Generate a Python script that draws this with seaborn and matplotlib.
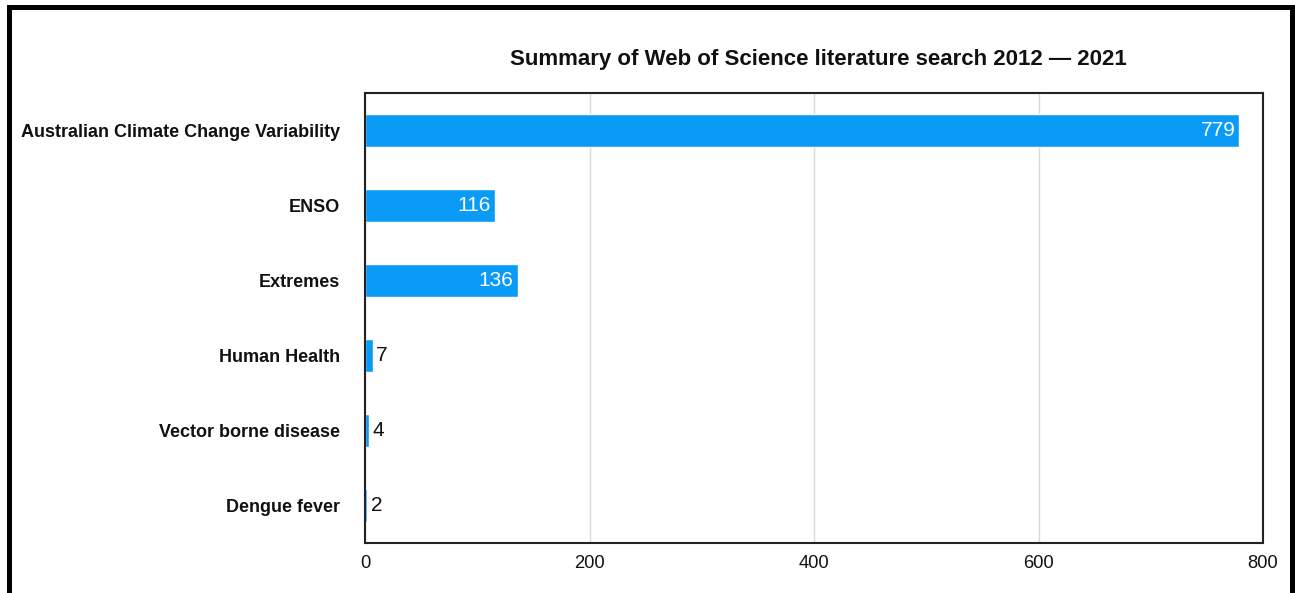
import matplotlib
matplotlib.use("Agg")
import matplotlib.pyplot as plt
from matplotlib.patches import Rectangle
import seaborn as sns
import pandas as pd

# Web of Science search results by topic
topics = [
    "Australian Climate Change Variability",
    "ENSO",
    "Extremes",
    "Human Health",
    "Vector borne disease",
    "Dengue fever",
]
counts = [779, 116, 136, 7, 4, 2]
x_ticks = [0, 200, 400, 600, 800]
title = "Summary of Web of Science literature search 2012 \u2014 2021"

df = pd.DataFrame({"topic": topics, "count": counts})

sns.set_theme(style="white")
plt.rcParams["font.family"] = ["Liberation Sans", "DejaVu Sans"]

W, H = 1295, 593
fig = plt.figure(figsize=(W / 100, H / 100), dpi=100)
ax = fig.add_axes([365 / W, 1 - 543 / H, (1263 - 365) / W, (543 - 93) / H])

bar_color = "#0A9BF6"
sns.barplot(data=df, x="count", y="topic", orient="h", color=bar_color,
            width=0.44, saturation=1, ax=ax, zorder=3)

ax.set_xlim(0, 800)
ax.set_xticks(x_ticks)
ax.set_xticklabels([str(t) for t in x_ticks], fontsize=13.2, color="#111111")
ax.set_xlabel("")
ax.set_ylabel("")
ax.tick_params(axis="x", length=0, pad=9)
ax.tick_params(axis="y", length=0, pad=18)
for lbl in ax.get_yticklabels():
    lbl.set_fontweight("bold")
    lbl.set_fontsize(13)
    lbl.set_color("#111111")

ax.xaxis.grid(True, color="#d9d9d9", linewidth=1.0, zorder=0)
ax.yaxis.grid(False)
for side in ["left", "right", "top", "bottom"]:
    ax.spines[side].set_visible(True)
    ax.spines[side].set_color("#222222")
    ax.spines[side].set_linewidth(1.5)
    ax.spines[side].set_zorder(4)

# value labels: inside (white) for wide bars, outside (black) for narrow ones
for patch, val in zip(ax.patches, counts):
    yc = patch.get_y() + patch.get_height() / 2
    if val > 50:
        ax.annotate(str(val), xy=(val, yc), xytext=(-3, 0), textcoords="offset points",
                    ha="right", va="center", color="white", fontsize=15, zorder=5)
    else:
        ax.annotate(str(val), xy=(val, yc), xytext=(2.5, 0), textcoords="offset points",
                    ha="left", va="center", color="#111111", fontsize=15, zorder=5)

fig.text(818 / W, 1 - 60 / H, title, ha="center", va="center",
         fontsize=16, fontweight="bold", color="#111111")

# thick black frame around the figure
tf = fig.transFigure
for x0, y0, w, h in [
    (7 / W, 0, 5 / W, 1 - 5 / H),
    (7 / W, 1 - 10 / H, (1295 - 7) / W, 5 / H),
    (1290 / W, 0, 5 / W, 1 - 5 / H),
]:
    fig.patches.append(Rectangle((x0, y0), w, h, transform=tf, facecolor="black",
                                 edgecolor="none", zorder=10))

fig.savefig("out.png", dpi=100, facecolor="white")
